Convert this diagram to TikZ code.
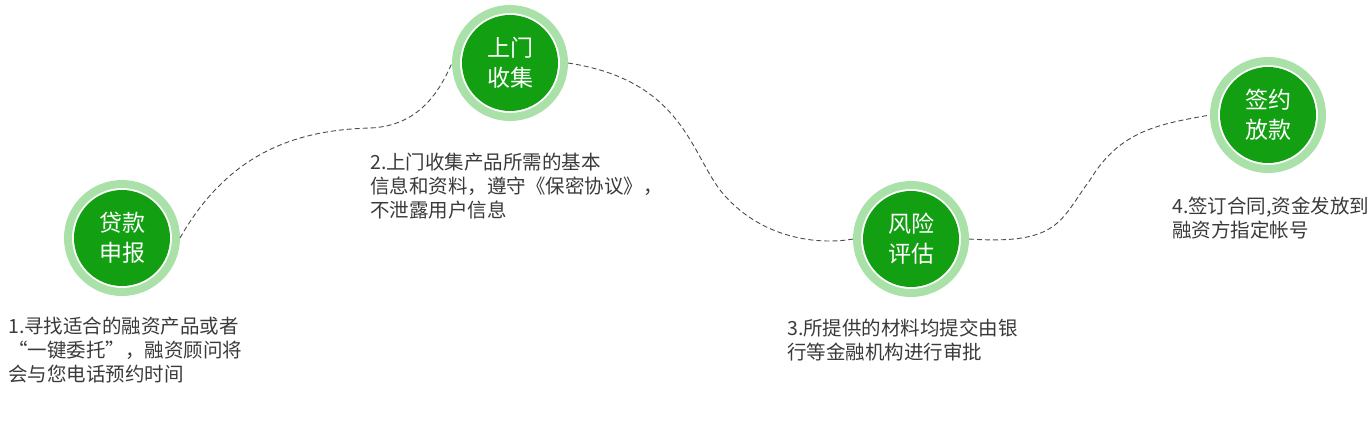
\documentclass[tikz,border=0pt]{standalone}
\usepackage{fontspec}
\setmainfont{Noto Sans CJK SC}
\begin{document}
\begin{tikzpicture}[x=1pt,y=-1pt,
  core/.style={circle,fill=stepgreen,minimum size=96pt,inner sep=0pt,text=white,font=\fontsize{23}{30}\selectfont,align=center},
  desc/.style={anchor=north west,align=left,text=textgray,font=\fontsize{19.5}{24}\selectfont,inner sep=0pt},
  link/.style={draw=black!70,line width=0.9pt,dash pattern=on 5pt off 3pt}]
\definecolor{stepgreen}{HTML}{12A012}
\definecolor{ringgreen}{HTML}{A9E1A9}
\definecolor{textgray}{HTML}{3A3A3A}
\useasboundingbox (0,0) rectangle (1372,426);
\foreach \n/\x/\y/\t in {a/122/238/贷款\\申报,b/510/63/上门\\收集,c/911/239/风险\\评估,d/1268/115/签约\\放款}{
  \node[circle,draw=ringgreen,line width=8pt,minimum size=108pt,inner sep=0pt] (r\n) at (\x,\y) {};
  \node[core] (\n) at (\x,\y) {\t};
}
\draw[link] (ra.east) .. controls (230,150) and (300,130) .. (370,128) .. controls (420,126) and (440,90) .. (rb.west);
\draw[link] (rb.east) .. controls (680,80) and (690,150) .. (720,190) .. controls (760,240) and (820,245) .. (rc.west);
\draw[link] (rc.east) .. controls (1060,245) and (1060,220) .. (1090,180) .. controls (1120,130) and (1160,124) .. (rd.west);
\node[desc] (t1) at (8,317) {1.寻找适合的融资产品或者\\“一键委托”，融资顾问将\\会与您电话预约时间};
\node[desc] (t2) at (370,153) {2.上门收集产品所需的基本\\信息和资料，遵守《保密协议》，\\不泄露用户信息};
\node[desc] (t3) at (787,319) {3.所提供的材料均提交由银\\行等金融机构进行审批};
\node[desc] (t4) at (1172,197) {4.签订合同,资金发放到\\融资方指定帐号};
\end{tikzpicture}
\end{document}
